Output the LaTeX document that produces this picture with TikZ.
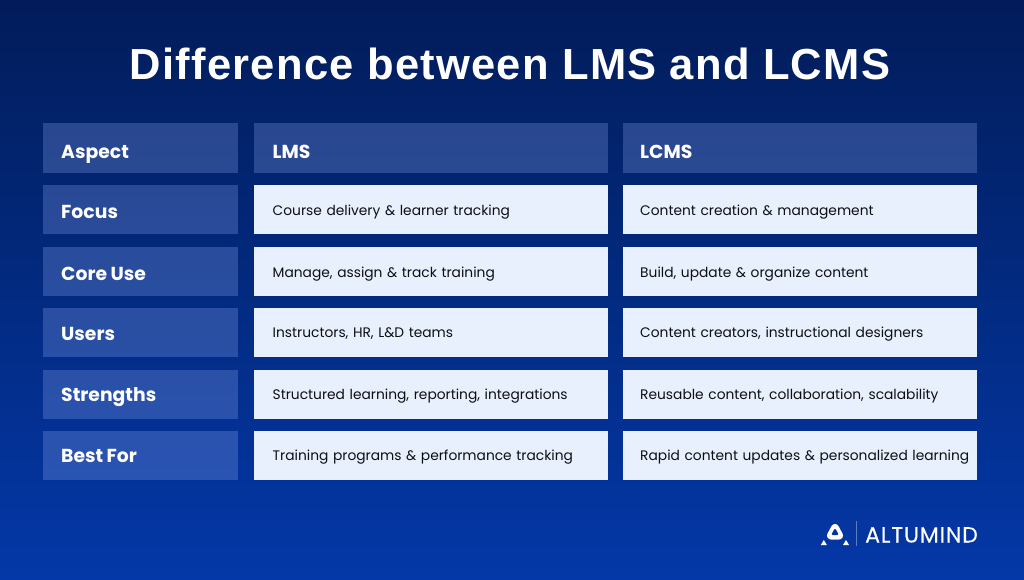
\documentclass[tikz,border=0pt]{standalone}
\usepackage{fontspec}
\setmainfont{Poppins}
\newfontfamily\titlefont[LetterSpace=2.9]{Liberation Sans}
\newfontfamily\logofont[LetterSpace=4,FakeBold=0.2]{Poppins}
\definecolor{bgtop}{HTML}{021C5A}
\definecolor{bgmid}{HTML}{022A80}
\definecolor{bgbot}{HTML}{0438A8}
\definecolor{bglogo}{HTML}{0335A0}
\definecolor{headtint}{HTML}{A0B8FF}
\definecolor{bodycell}{HTML}{E9F0FD}
\definecolor{bodytext}{HTML}{0C0F14}
\newcommand{\tsp}{\hspace{3.4pt}}
\tikzset{
  x=1pt,y=-1pt,
  cellbase/.style={anchor=north west,inner xsep=0pt,inner ysep=0pt,align=left,rectangle},
  headcell/.style={cellbase,fill=headtint,fill opacity=.25,text opacity=1,text=white,font=\fontsize{18.8}{22}\selectfont\bfseries,text depth=0pt},
  bodybox/.style={cellbase,fill=bodycell,text=bodytext,font=\fontsize{13.8}{18}\selectfont,text depth=2pt},
  titlenode/.style={text=white,inner sep=0pt,font=\fontsize{43.5}{50}\selectfont\titlefont\bfseries},
  logotext/.style={text=white,inner sep=0pt,anchor=base west,font=\fontsize{22}{24}\selectfont\logofont}
}
\newcommand{\cellat}[8]{%
  \node[#6,minimum width=#4pt,minimum height=#5pt,text width=#4pt] (#1) at (#2,#3) {\hspace*{#7pt}#8};}
\begin{document}
\begin{tikzpicture}
\useasboundingbox (0,0) rectangle (1024,580);
\fill[top color=bgtop,bottom color=bgbot,middle color=bgmid] (0,0) rectangle (1024,580);
\node[titlenode] (title) at (510,64) {Difference between LMS and LCMS};
% headers
\cellat{hA}{43}{123}{195}{50}{headcell,text height=21.5pt}{18}{Aspect}
\cellat{hB}{254}{123}{354}{50}{headcell,text height=21.5pt}{18.5}{LMS}
\cellat{hC}{623}{123}{354}{50}{headcell,text height=21.5pt}{17}{LCMS}
% rows
\cellat{a1}{43}{185}{195}{49}{headcell,text height=17.5pt}{18}{Focus}
\cellat{b1}{254}{185}{354}{49}{bodybox,text height=13pt}{18.5}{Course delivery \& learner tracking}
\cellat{c1}{623}{185}{354}{49}{bodybox,text height=13pt}{17}{Content creation \& management}
\cellat{a2}{43}{247}{195}{49}{headcell,text height=17.5pt}{18}{Core\tsp Use}
\cellat{b2}{254}{247}{354}{49}{bodybox,text height=14pt}{18.5}{Manage, assign \& track training}
\cellat{c2}{623}{247}{354}{49}{bodybox,text height=14pt}{17}{Build, update \& organize content}
\cellat{a3}{43}{308}{195}{49}{headcell,text height=15.5pt}{18}{Users}
\cellat{b3}{254}{308}{354}{49}{bodybox,text height=11pt}{18.5}{Instructors, HR, L\&D teams}
\cellat{c3}{623}{308}{354}{49}{bodybox,text height=11pt}{17}{Content creators, instructional designers}
\cellat{a4}{43}{370}{195}{49}{headcell,text height=13.5pt}{18}{Strengths}
\cellat{b4}{254}{370}{354}{49}{bodybox,text height=11pt}{18.5}{Structured learning, reporting, integrations}
\cellat{c4}{623}{370}{354}{49}{bodybox,text height=11pt}{17}{Reusable content, collaboration, scalability}
\cellat{a5}{43}{431}{195}{49}{headcell,text height=13.5pt}{18}{Best\tsp For}
\cellat{b5}{254}{431}{354}{49}{bodybox,text height=11pt}{18.5}{Training programs \& performance tracking}
\cellat{c5}{623}{431}{354}{49}{bodybox,text height=11pt}{17}{Rapid content updates \& personalized learning}
% logo
\filldraw[white,line width=8pt,line join=round] (835,528) -- (831,535.5) -- (839,535.5) -- cycle;
\filldraw[bglogo,line width=2pt,line join=round] (835,530) -- (832.8,534) -- (837.2,534) -- cycle;
\fill[white] (823.8,540) -- (820.8,545) -- (826.8,545) -- cycle;
\fill[white] (846,540) -- (843,545) -- (849,545) -- cycle;
\draw[white,opacity=.35,line width=.6pt] (856,521) -- (856,546);
\node[logotext] (logo) at (865,542.5) {ALTUMIND};
\end{tikzpicture}
\end{document}
